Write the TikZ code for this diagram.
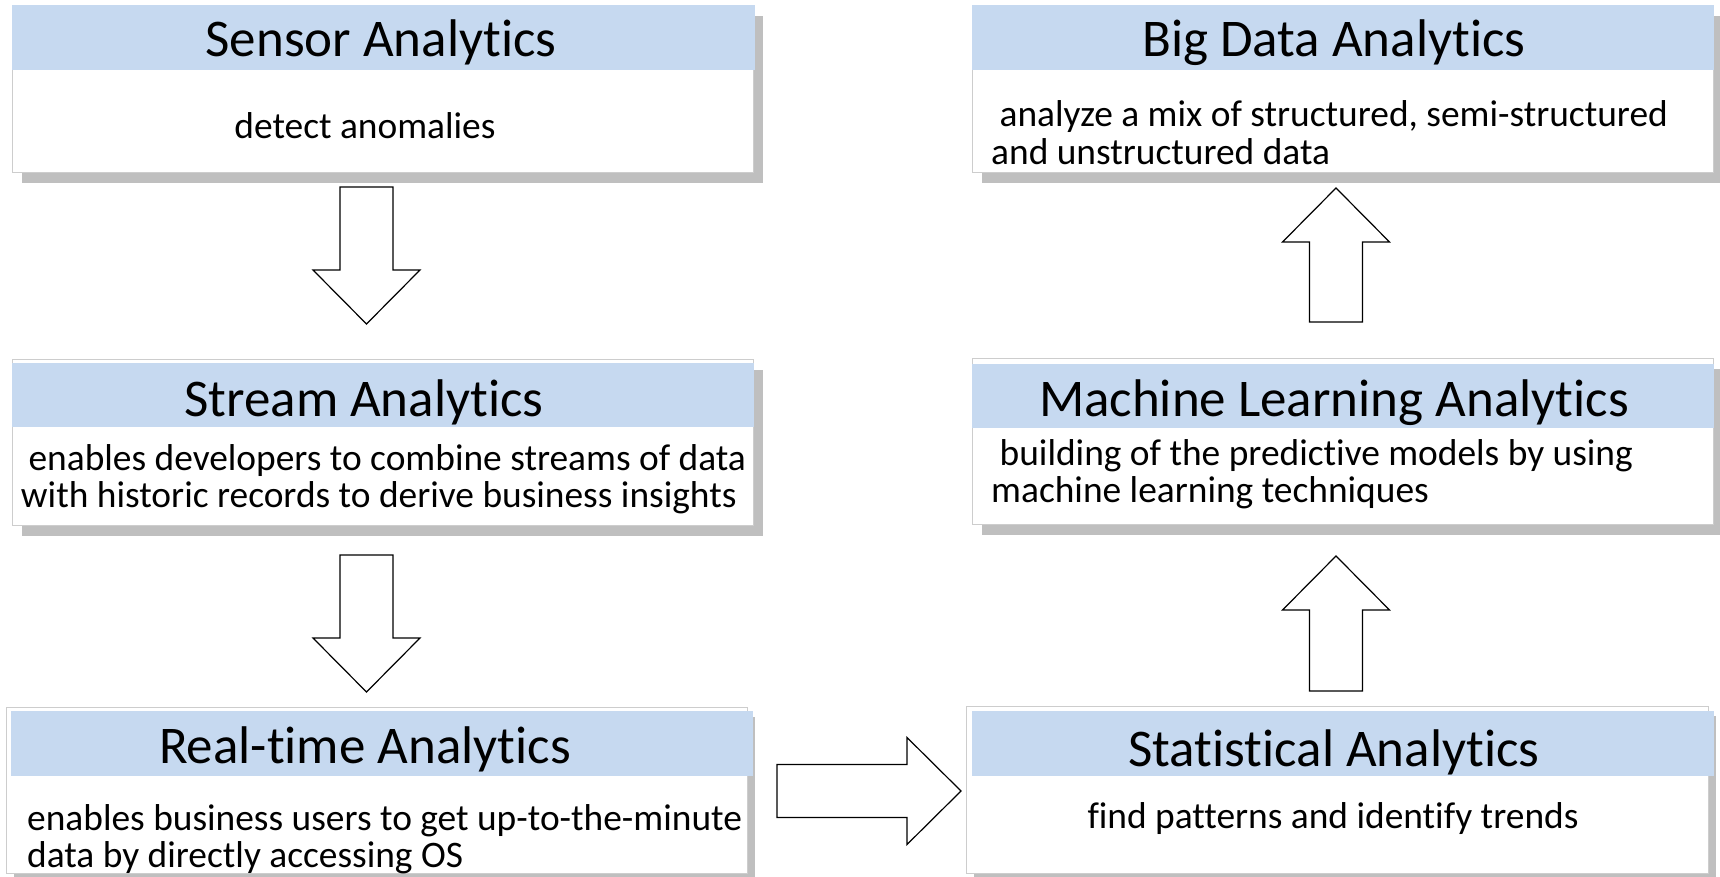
\documentclass[tikz,border=0pt]{standalone}
\usepackage{fontspec}
\setmainfont{Carlito}[Ligatures=NoCommon]
\usetikzlibrary{shadows}
\definecolor{headblue}{RGB}{198,217,240}
\definecolor{shadowgray}{RGB}{191,191,191}
\definecolor{edgegray}{RGB}{205,205,205}
\tikzset{
  card/.style={draw=edgegray, line width=1.2pt, fill=white, anchor=north west, inner sep=0},
  topshadow/.style={drop shadow={shadow xshift=9pt, shadow yshift=-10pt, fill=shadowgray, opacity=1}},
  lowshadow/.style={drop shadow={shadow xshift=7pt, shadow yshift=-9pt, fill=shadowgray, opacity=1}},
  band/.style={fill=headblue, draw=none, anchor=north west, inner sep=0},
  title/.style={font=\fontsize{53}{60}\selectfont, anchor=base, inner sep=0},
  desc/.style={font=\fontsize{37.4}{37.5}\selectfont, inner sep=0, align=left, anchor=base west},
  cdesc/.style={font=\fontsize{37.4}{37.5}\selectfont, inner sep=0, align=center, anchor=base},
  blockarrow/.style={draw=black, fill=white, line width=1.2pt, line join=miter},
  pics/fatarrow/.style={code={
    \draw[blockarrow] (0,-26.5) -- (#1-54,-26.5) -- (#1-54,-53.5) -- (#1,0)
      -- (#1-54,53.5) -- (#1-54,26.5) -- (0,26.5) -- cycle;}}
}
\begin{document}
\begin{tikzpicture}[x=1pt, y=-1pt]
\useasboundingbox (0,0) rectangle (1720,877);

% cards: outline with shadow, then the blue title band
\node[card, topshadow, minimum width=741, minimum height=167] (sensor) at (12,5) {};
\node[band, minimum width=743, minimum height=65] (sensorhead) at (12,5) {};
\node[card, topshadow, minimum width=741, minimum height=167] (bigdata) at (972,5) {};
\node[band, minimum width=742, minimum height=65] (bigdatahead) at (972,5) {};
\node[card, topshadow, minimum width=741, minimum height=166] (stream) at (12,359) {};
\node[band, minimum width=742, minimum height=64] (streamhead) at (12,363) {};
\node[card, topshadow, minimum width=741, minimum height=166] (ml) at (972,358) {};
\node[band, minimum width=742, minimum height=64] (mlhead) at (972,364) {};
\node[card, lowshadow, minimum width=741, minimum height=166] (realtime) at (6,707) {};
\node[band, minimum width=742, minimum height=65] (realtimehead) at (11,711) {};
\node[card, lowshadow, minimum width=742, minimum height=167] (stats) at (966,706) {};
\node[band, minimum width=742, minimum height=65] (statshead) at (972,711) {};

% titles
\node[title] (sensortitle) at (381,57) {Sensor Analytics};
\node[title] (bigdatatitle) at (1334,57) {Big Data Analytics};
\node[title] (streamtitle) at (364,416) {Stream Analytics};
\node[title] (mltitle) at (1334,416) {Machine Learning Analytics};
\node[title] (realtimetitle) at (365,763) {Real-time Analytics};
\node[title] (statstitle) at (1334,766) {Statistical Analytics};

% descriptions (base anchor of a two-line node sits on its last line)
\node[cdesc] (sensortext) at (365,139) {detect anomalies};
\node[desc] (bigdatatext) at (991,164.5)
  {\hspace*{.226em}analyze a mix of structured, semi-structured\\and unstructured data};
\node[cdesc] (streamtext) at (383,507.5)
  {\hspace*{.226em}enables developers to combine streams of data\\with historic records to derive business insights\hspace*{.226em}};
\node[desc] (mltext) at (991,502.5)
  {\hspace*{.226em}building of the predictive models by using\\machine learning techniques};
\node[desc] (realtimetext) at (27,867.5)
  {enables business users to get up-to-the-minute\\data by directly accessing OS};
\node[cdesc] (statstext) at (1333,828) {find patterns and identify trends};

% block arrows between the cards
\coordinate (a1) at (366.5,187);
\coordinate (a2) at (366.5,555);
\coordinate (a3) at (777,791);
\coordinate (a4) at (1336,691);
\coordinate (a5) at (1336,322);
\pic[rotate=-90] at (a1) {fatarrow=137};
\pic[rotate=-90] at (a2) {fatarrow=137};
\pic at (a3) {fatarrow=184};
\pic[rotate=90] at (a4) {fatarrow=135};
\pic[rotate=90] at (a5) {fatarrow=134};
\end{tikzpicture}
\end{document}
